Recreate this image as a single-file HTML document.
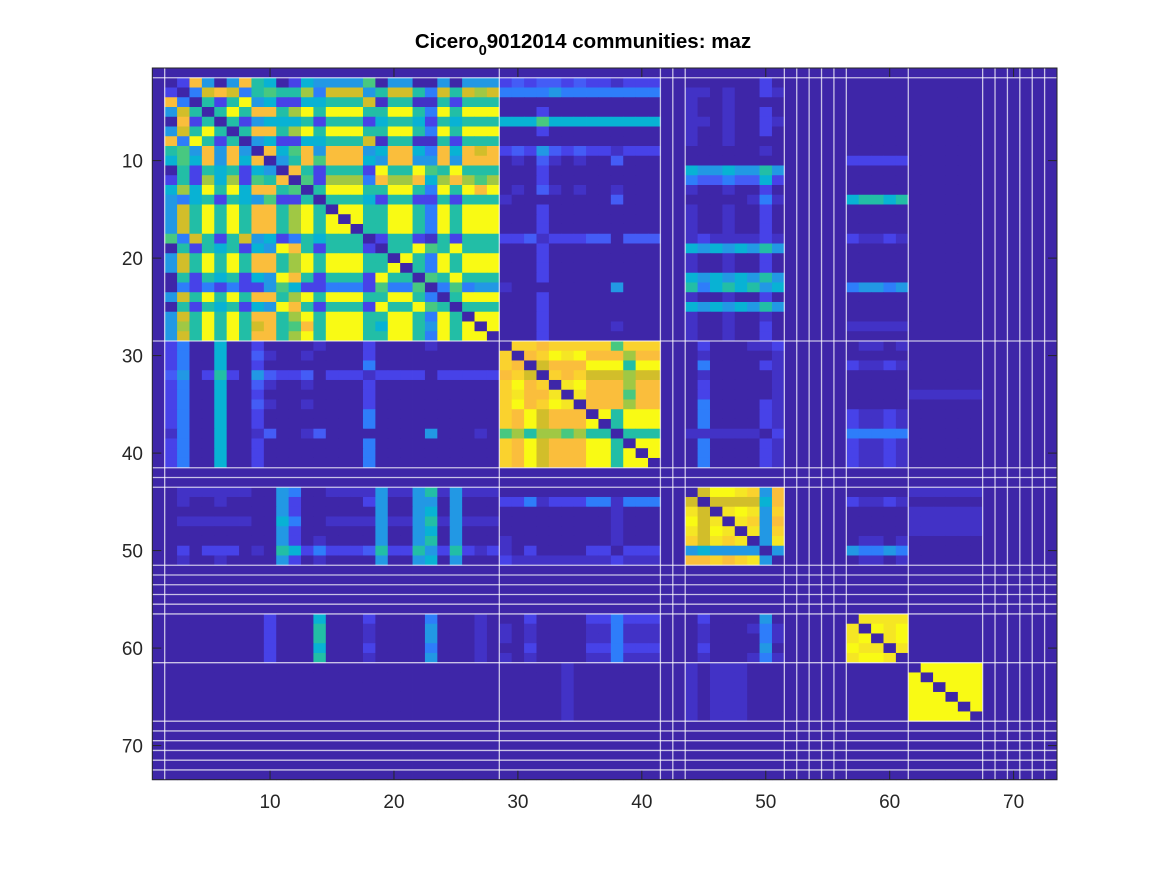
<!DOCTYPE html>
<html><head><meta charset="utf-8">
<style>
html,body{margin:0;padding:0;background:#fff;}
body{width:1167px;height:875px;overflow:hidden;font-family:"Liberation Sans",Arial,sans-serif;}
svg text{font-family:"Liberation Sans",Arial,sans-serif;}
</style></head>
<body>
<svg id="chart" width="1167" height="875" viewBox="0 0 1167 875" xmlns="http://www.w3.org/2000/svg">
  <rect x="0" y="0" width="1167" height="875" fill="#ffffff"/>
  <text x="583" y="48" text-anchor="middle" font-size="20.5" font-weight="bold" fill="#000">Cicero<tspan font-size="14.5" dy="7">0</tspan><tspan dy="-7">9012014 communities: maz</tspan></text>
  <g id="cells"></g>
  <g id="sep"></g>
  <g id="axes"></g>
</svg>
<script>
// matrix rows (node 1..73), segments: [1][2-28][29-41][42-43][44-51][52-56][57-61][62-67][68-73]
const matrixRows = [
"0 000000000000000000000000000 0000000000000 00 00000000 00000 00000 000000 000000",
"0 018303854014333360330030333 1b1bb1b11d111 00 00000010 00000 00000 000000 000000",
"0 102m8m2565572mmm35mm52m5m7m 2222322222222 00 dd0d001d 00000 00000 000000 000000",
"0 8205159341144555md55dd51555 0000000000000 00 d00d0000 00000 00000 000000 000000",
"0 3m5059588579599955995295999 0001000000000 00 d00d0010 00000 00000 000000 000000",
"0 081505134445155514554154555 4446444444444 00 dd0d001d 00000 00000 000000 000000",
"0 3m5950588579599955995295999 0001000000000 00 d00d0010 00000 00000 000000 000000",
"0 8295150341144555md55dd51555 0000000000000 00 d00d0000 00000 00000 000000 000000",
"0 5638383084683888348842848m8 1b13b1b11d111 00 000000d0 00000 00000 000000 000000",
"0 464838480358688843883383888 0d0bd0d00b000 00 00000000 00000 11111 000000 000000",
"0 051545143085155519559659555 0001000000000 00 43343353 00000 00000 000000 000000",
"0 151747165806177728778478767 0001000000000 00 2bb2bb41 00000 00000 000000 000000",
"0 474959488560599955995295989 0d0bd0d00d000 00 d00d0010 00000 00000 000000 000000",
"0 324515436115055541551151555 d00000000b000 00 00000d2d 00000 45545 000000 000000",
"0 3m5959588579509955995295999 0001000000000 00 d00d0010 00000 00000 000000 000000",
"0 3m5959588579590955995295999 0001000000000 00 d00d0010 00000 00000 000000 000000",
"0 3m5959588579599055995295999 0001000000000 00 d00d0010 00000 00000 000000 000000",
"0 62m515m34125455501551d51555 11bd111bb0bbb 00 d1dddd1d 00000 1dd1d 000000 000000",
"0 051545143985155510559659555 0001000000000 00 43434353 00000 00000 000000 000000",
"0 3m5959588579599955095295999 0001000000000 00 d00d0010 00000 00000 000000 000000",
"0 3m5959588579599955905295999 0001000000000 00 d00d0010 00000 00000 000000 000000",
"0 051545143985155519550659555 0001000000000 00 43434353 00000 00000 000000 000000",
"0 021212113641122216226026233 d000000003000 00 52454534 00000 23323 000000 000000",
"0 3m5959588579599955995205999 0001000000000 00 d00d0010 00000 00000 000000 000000",
"0 051545143985155519559650555 0001000000000 00 43434353 00000 00000 000000 000000",
"0 3m5959588579599955995295099 0001000000000 00 d00d00d0 00000 00000 000000 000000",
"0 3759595m8568599954995395909 000100000d000 00 d00d0010 00000 ddddd 000000 000000",
"0 3m5959588579599955995295990 0001000000000 00 d00d0010 00000 00000 000000 000000",
"0 120040010000d00010000d00000 0gg8ggggg6ggg 00 01000dd1 00000 0dd0d 000000 000000",
"0 1200400bd00d000010000000000 g08gyYy888788 00 0d00000d 00000 00000 000000 000000",
"0 120040010000000020000000000 g80m888yyy5yy 00 0200001d 00000 1dd1d 000000 000000",
"0 b3015103b11b0111d1111011111 8gm0g8gmmm7mm 00 0d00000d 00000 00000 000000 000000",
"0 1200400bd00d000010000000000 gy8g0Yy888788 00 0100000d 00000 00000 000000 000000",
"0 120040010000000010000000000 gY88Y0Y888688 00 0100000d 00000 00000 dddddd 000000",
"0 1200400bd00d000010000000000 gy8gyY0888788 00 0200001d 00000 00000 000000 000000",
"0 120040010000000020000000000 g8ym8880y5yyy 00 0200001d 00000 1dd1d 000000 000000",
"0 120040010000000020000000000 g8ym888y05yyy 00 0200001d 00000 1dd1d 000000 000000",
"0 d200400db00db000000003000d0 6757767550555 00 dddddd01 00000 22222 000000 000000",
"0 120040010000000020000000000 g8ym888yy50yy 00 0200001d 00000 1dd1d 000000 000000",
"0 120040010000000020000000000 g8ym888yy5y0y 00 0200001d 00000 1dd1d 000000 000000",
"0 120040010000000020000000000 g8ym888yy5yy0 00 0200001d 00000 1dd1d 000000 000000",
"0 000000000000000000000000000 0000000000000 00 00000000 00000 00000 000000 000000",
"0 000000000000000000000000000 0000000000000 00 00000000 00000 00000 000000 000000",
"0 0dddddd003200dddd3dd35d3ddd 0000000000000 00 0myyYg38 00000 00000 dddddd 000000",
"0 0d00d0000310000013003303000 112d11122d222 00 m0mmmm48 00000 1dd1d 000000 000000",
"0 000000000310000003003403000 000000000d000 00 Ym0YyY3g 00000 00000 dddddd 000000",
"0 0dddddd004200dddd3dd35d3ddd 000000000d000 00 ymY0Yg38 00000 00000 dddddd 000000",
"0 000000000310000003003403000 000000000d000 00 YmyY0Y3g 00000 00000 dddddd 000000",
"0 000000000310d00003003503000 d00000000d000 00 gmYgY03Y 00000 0dd0d 000000 000000",
"0 0101110d05412111b51153151d1 d010000110111 00 34333303 00000 32232 000000 000000",
"0 0d00d0000310d00003003403000 1dddddddd1ddd 00 88g8gY30 00000 0dd0d 000000 000000",
"0 000000000000000000000000000 0000000000000 00 00000000 00000 00000 000000 000000",
"0 000000000000000000000000000 0000000000000 00 00000000 00000 00000 000000 000000",
"0 000000000000000000000000000 0000000000000 00 00000000 00000 00000 000000 000000",
"0 000000000000000000000000000 0000000000000 00 00000000 00000 00000 000000 000000",
"0 000000000000000000000000000 0000000000000 00 00000000 00000 00000 000000 000000",
"0 0000000010004000100002000d0 0010000112111 00 01000030 00000 0YYYY 000000 000000",
"0 0000000010005000d00003000d0 d0d0000dd2ddd 00 0d000d2d 00000 Y0yYy 000000 000000",
"0 0000000010005000d00003000d0 d0d0000dd2ddd 00 0d00002d 00000 Yy0Yy 000000 000000",
"0 0000000010004000100002000d0 0010000112111 00 01000030 00000 yYY0Y 000000 000000",
"0 0000000010005000d00003000d0 d0d0000dd2ddd 00 0d000d2d 00000 YyyY0 000000 000000",
"0 000000000000000000000000000 00000d0000000 00 d0ddd000 00000 00000 0yyyyy 000000",
"0 000000000000000000000000000 00000d0000000 00 d0ddd000 00000 00000 y0yyyy 000000",
"0 000000000000000000000000000 00000d0000000 00 d0ddd000 00000 00000 yy0yyy 000000",
"0 000000000000000000000000000 00000d0000000 00 d0ddd000 00000 00000 yyy0yy 000000",
"0 000000000000000000000000000 00000d0000000 00 d0ddd000 00000 00000 yyyy0y 000000",
"0 000000000000000000000000000 00000d0000000 00 d0ddd000 00000 00000 yyyyy0 000000",
"0 000000000000000000000000000 0000000000000 00 00000000 00000 00000 000000 000000",
"0 000000000000000000000000000 0000000000000 00 00000000 00000 00000 000000 000000",
"0 000000000000000000000000000 0000000000000 00 00000000 00000 00000 000000 000000",
"0 000000000000000000000000000 0000000000000 00 00000000 00000 00000 000000 000000",
"0 000000000000000000000000000 0000000000000 00 00000000 00000 00000 000000 000000",
"0 000000000000000000000000000 0000000000000 00 00000000 00000 00000 000000 000000"
];
// value code -> numeric level (0..1)
const levelCodes = ["0","d","1","b","2","3","4","5","6","7","m","8","g","Y","y","9"];
const levelValues = [0,0.05,0.12,0.18,0.25,0.35,0.45,0.55,0.63,0.72,0.8,0.85,0.9,0.95,1,1];
// community boundaries (after node index)
const boundaries = [1,28,41,42,43,51,52,53,54,55,56,61,67,68,69,70,71,72];
const xTicks = [10,20,30,40,50,60,70];
const yTicks = [10,20,30,40,50,60,70];
const nNodes = 73;

// parula-like colormap
const cmapStops = [
 [0,[62,38,168]],[0.05,[66,50,198]],[0.12,[71,66,232]],[0.18,[68,92,246]],[0.25,[46,125,250]],
 [0.35,[34,152,228]],[0.45,[8,178,212]],[0.55,[34,190,166]],[0.63,[72,200,128]],[0.72,[160,200,68]],
 [0.8,[210,190,42]],[0.85,[250,190,60]],[0.9,[250,210,46]],[0.95,[245,230,36]],[1,[249,250,20]]];
function cmap(v){
  for(let i=1;i<cmapStops.length;i++){
    if(v<=cmapStops[i][0]){
      const a=cmapStops[i-1],b=cmapStops[i];const t=(v-a[0])/(b[0]-a[0]||1);
      const c=a[1].map((x,k)=>Math.round(x+(b[1][k]-x)*t));
      return `rgb(${c[0]},${c[1]},${c[2]})`;
    }
  }
  return 'rgb(249,250,20)';
}
const AX={l:152.3,r:1057,t:68,b:779.7};
const cw=(AX.r-AX.l)/nNodes, ch=(AX.b-AX.t)/nNodes;
const xScale=i=>AX.l+(i-0.5)*cw; // center of node i (1-based)
const yScale=i=>AX.t+(i-0.5)*ch;
const NS='http://www.w3.org/2000/svg';
const cells=document.getElementById('cells');
matrixRows.forEach((row,ri)=>{
  const vals=row.replace(/ /g,'');
  for(let ci=0;ci<nNodes;ci++){
    const code=vals[ci]||'0';
    const idx=levelCodes.indexOf(code);
    const v=idx>=0?levelValues[idx]:0;
    const r=document.createElementNS(NS,'rect');
    r.setAttribute('x',(xScale(ci+1)-cw/2).toFixed(2));
    r.setAttribute('y',(yScale(ri+1)-ch/2).toFixed(2));
    r.setAttribute('width',(cw+0.4).toFixed(2));
    r.setAttribute('height',(ch+0.4).toFixed(2));
    r.setAttribute('fill',cmap(v));
    
    
    cells.appendChild(r);
  }
});
const sep=document.getElementById('sep');
boundaries.forEach(b=>{
  const x=xScale(b)+cw/2, y=yScale(b)+ch/2;
  const v=document.createElementNS(NS,'line');
  v.setAttribute('x1',x);v.setAttribute('x2',x);v.setAttribute('y1',AX.t);v.setAttribute('y2',AX.b);
  v.setAttribute('stroke','#ffffff');v.setAttribute('stroke-opacity','0.72');v.setAttribute('stroke-width','1.3');
  
  
  sep.appendChild(v);
  const h=document.createElementNS(NS,'line');
  h.setAttribute('y1',y);h.setAttribute('y2',y);h.setAttribute('x1',AX.l);h.setAttribute('x2',AX.r);
  h.setAttribute('stroke','#ffffff');h.setAttribute('stroke-opacity','0.72');h.setAttribute('stroke-width','1.3');
  
  
  sep.appendChild(h);
});
const axes=document.getElementById('axes');
const box=document.createElementNS(NS,'rect');
box.setAttribute('x',AX.l);box.setAttribute('y',AX.t);box.setAttribute('width',AX.r-AX.l);box.setAttribute('height',AX.b-AX.t);
box.setAttribute('fill','none');box.setAttribute('stroke','#262626');box.setAttribute('stroke-width','1');


axes.appendChild(box);
const TL=9;
function line(x1,y1,x2,y2,name){
  const l=document.createElementNS(NS,'line');
  l.setAttribute('x1',x1);l.setAttribute('y1',y1);l.setAttribute('x2',x2);l.setAttribute('y2',y2);
  l.setAttribute('stroke','#262626');l.setAttribute('stroke-width','1');
  
  
  axes.appendChild(l);
}
xTicks.forEach(t=>{
  const x=xScale(t);
  line(x,AX.b,x,AX.b-TL,'x-tick');
  line(x,AX.t,x,AX.t+TL,'x-tick-top');
  const tx=document.createElementNS(NS,'text');
  tx.setAttribute('x',x);tx.setAttribute('y',808);tx.setAttribute('text-anchor','middle');
  tx.setAttribute('font-size','19');tx.setAttribute('fill','#262626');
  tx.textContent=t;
  
  
  axes.appendChild(tx);
});
yTicks.forEach(t=>{
  const y=yScale(t);
  line(AX.l,y,AX.l+TL,y,'y-tick');
  line(AX.r,y,AX.r-TL,y,'y-tick-right');
  const tx=document.createElementNS(NS,'text');
  tx.setAttribute('x',143);tx.setAttribute('y',y+6.8);tx.setAttribute('text-anchor','end');
  tx.setAttribute('font-size','19');tx.setAttribute('fill','#262626');
  tx.textContent=t;
  
  
  axes.appendChild(tx);
});
</script>
</body></html>
